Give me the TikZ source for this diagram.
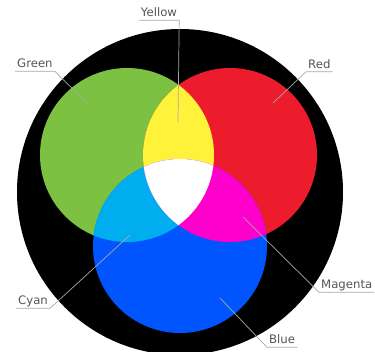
\documentclass[tikz,border=0pt]{standalone}
\usepackage{fontspec}
\setmainfont{DejaVu Sans}
\usepackage{tikz}
\definecolor{lightgreen}{HTML}{7DC142}
\definecolor{lightred}{HTML}{EC1C2D}
\definecolor{lightblue}{HTML}{0055FF}
\definecolor{mixyellow}{HTML}{FFF23A}
\definecolor{mixcyan}{HTML}{00AEEF}
\definecolor{mixmagenta}{HTML}{FF00CC}
\definecolor{labelgray}{HTML}{555555}
\definecolor{leadergray}{HTML}{A8A8A8}

\begin{document}
\begin{tikzpicture}[
    x=1pt, y=-1pt,
    lbl/.style={font=\fontsize{11.7}{14}\selectfont, text=labelgray,
                inner xsep=2pt, inner ysep=0.8pt, text height=8.5pt, text depth=2.8pt},
    leader/.style={draw=leadergray, line width=0.7pt},
]
    \useasboundingbox (0,0) rectangle (375,351);

    % Background disc
    \fill[black] (180,192) circle (163);

    % Circle centres
    \coordinate (gc) at (127,155);
    \coordinate (rc) at (230,155);
    \coordinate (bc) at (180,246);

    % Primary discs
    \fill[lightgreen] (gc) circle (87);
    \fill[lightred]   (rc) circle (87);
    \fill[lightblue]  (bc) circle (87);

    % Overlaps
    \begin{scope}
        \clip (gc) circle (87);
        \fill[mixyellow] (rc) circle (87);
        \fill[mixcyan]   (bc) circle (87);
        \clip (rc) circle (87);
        \fill[white]     (bc) circle (87);
    \end{scope}
    \begin{scope}
        \clip (rc) circle (87);
        \clip (bc) circle (87);
        \fill[mixmagenta] (rc) circle (87);
        \clip (gc) circle (87);
        \fill[white] (bc) circle (87);
    \end{scope}

    % Labels
    \node[lbl, anchor=base]      (yl) at (159,16.5)  {Yellow};
    \node[lbl, anchor=base west] (gl) at (15,67.5)   {Green};
    \node[lbl, anchor=base west] (rl) at (306,68)    {Red};
    \node[lbl, anchor=base west] (cl) at (16,304.5)  {Cyan};
    \node[lbl, anchor=base west] (ml) at (319,288.5) {Magenta};
    \node[lbl, anchor=base west] (bl) at (267,343.5) {Blue};

    % Leader ends
    \coordinate (ypt) at (178,122);
    \coordinate (gpt) at (87,103);
    \coordinate (rpt) at (273,103);
    \coordinate (cpt) at (130,235);
    \coordinate (mpt) at (243,217);
    \coordinate (bpt) at (220,298);

    % Leaders
    \draw[leader] (yl.south west) -- (yl.south east) -- (ypt);
    \draw[leader] (gl.south west) -- (gl.south east) -- (gpt);
    \draw[leader] (rl.south east) -- (rl.south west) -- (rpt);
    \draw[leader] (cl.south west) -- (cl.south east) -- (cpt);
    \draw[leader] (ml.south east) -- (ml.south west) -- (mpt);
    \draw[leader] (bl.south east) -- (bl.south west) -- (bpt);

\end{tikzpicture}
\end{document}
